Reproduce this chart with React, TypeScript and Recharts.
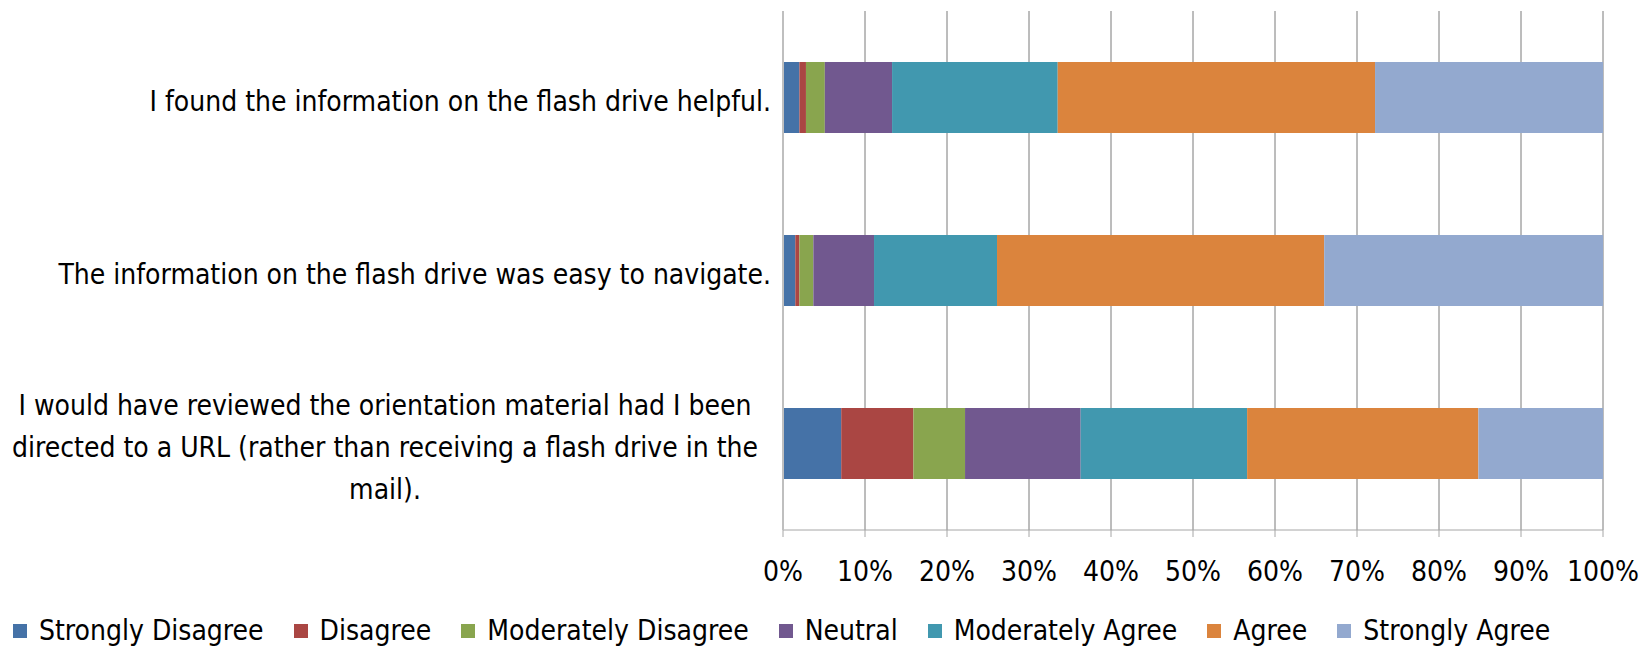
import { Bar, BarChart, CartesianGrid, Legend, XAxis, YAxis } from 'recharts';

const questionLines = [
    ['I found the information on the flash drive helpful.'],
    ['The information on the flash drive was easy to navigate.'],
    [
        'I would have reviewed the orientation material had I been',
        'directed to a URL (rather than receiving a flash drive in the',
        'mail).',
    ],
];
const questions = questionLines.map((l) => l.join(' '));

const seriesNames = [
    'Strongly Disagree',
    'Disagree',
    'Moderately Disagree',
    'Neutral',
    'Moderately Agree',
    'Agree',
    'Strongly Agree',
];
const seriesColors = ['#4572a7', '#aa4643', '#89a54e', '#71588f', '#4198af', '#db843d', '#93a9cf'];

const stronglyDisagree = [2.0, 1.5, 7.1];
const disagree = [0.8, 0.5, 8.8];
const moderatelyDisagree = [2.3, 1.7, 6.3];
const neutral = [8.2, 7.4, 14.1];
const moderatelyAgree = [20.2, 15.0, 20.3];
const agree = [38.7, 39.9, 28.2];
const stronglyAgree = [27.8, 34.0, 15.2];

const percentTicks = [0, 10, 20, 30, 40, 50, 60, 70, 80, 90, 100];
const edgeTicks = [0, 1, 2, 3];

const allSeries = [stronglyDisagree, disagree, moderatelyDisagree, neutral, moderatelyAgree, agree, stronglyAgree];

const data = questions.map((q, i) => {
    const row: Record<string, string | number> = { question: q };
    seriesNames.forEach((name, s) => {
        row[name] = allSeries[s][i];
    });
    return row;
});

const FONT = "'Liberation Sans Narrow', 'DejaVu Sans Condensed', 'Open Sans', sans-serif";

// long labels are wrapped and centred as a block, short ones hug the axis
const QuestionTick = (props: any) => {
    const { x, y, payload } = props;
    const idx = questions.indexOf(payload.value);
    const lines = questionLines[idx] || [payload.value];
    const lineH = 42;
    const startY = y - ((lines.length - 1) * lineH) / 2 + 3;
    const multi = lines.length > 1;
    const tx = multi ? x - 386 : x;
    return (
        <text
            x={tx}
            y={startY}
            textAnchor={multi ? 'middle' : 'end'}
            dominantBaseline="central"
            fill="#000"
            fontSize={28}
            fontFamily={FONT}
        >
            {lines.map((line, i) => (
                <tspan key={i} x={tx} y={startY + i * lineH}>
                    {line}
                </tspan>
            ))}
        </text>
    );
};

// skip the 0% grid line so the light axis line shows there
const GridLine = (p: any) =>
    p.index === 0 ? (
        <g key={p.key} />
    ) : (
        <line key={p.key} x1={p.x1} y1={p.y1} x2={p.x2} y2={p.y2} stroke="#7a7a7a" strokeWidth={1} />
    );

const renderLegend = () => (
    <div
        style={{
            display: 'flex',
            alignItems: 'center',
            paddingLeft: 13,
            paddingTop: 4,
            fontFamily: FONT,
            fontSize: 28,
            color: '#000',
        }}
    >
        {seriesNames.map((name, i) => (
            <div key={name} style={{ display: 'flex', alignItems: 'center', marginRight: 30 }}>
                <span style={{ width: 14, height: 14, background: seriesColors[i], marginRight: 12 }} />
                <span>{name}</span>
            </div>
        ))}
    </div>
);

const App = () => {
    return (
        <div style={{ position: 'absolute', left: 0, top: 0, width: 1644, height: 646, background: '#fff' }}>
            <BarChart
                width={1644}
                height={646}
                data={data}
                layout="vertical"
                margin={{ top: 11, right: 41, left: 0, bottom: 0 }}
            >
                <CartesianGrid horizontal={false} vertical={GridLine} yAxisId="zLabels" />
                <XAxis
                    type="number"
                    domain={[0, 100]}
                    ticks={percentTicks}
                    tickFormatter={(v) => `${v}%`}
                    height={80}
                    stroke="#a6a6a6"
                    tickSize={7}
                    tickMargin={24}
                    tick={{ fill: '#000', fontSize: 28, fontFamily: FONT }}
                    interval={0}
                />
                <YAxis
                    yAxisId="aEdge"
                    type="number"
                    domain={[0, 3]}
                    ticks={edgeTicks}
                    allowDataOverflow
                    width={10}
                    tick={false}
                    tickSize={10}
                    stroke="#bfbfbf"
                    strokeWidth={2}
                />
                <YAxis
                    yAxisId="zLabels"
                    type="category"
                    dataKey="question"
                    width={773}
                    axisLine={false}
                    tickLine={false}
                    tickSize={0}
                    tickMargin={2}
                    tick={<QuestionTick />}
                    interval={0}
                />
                <Legend verticalAlign="bottom" height={36} content={renderLegend} wrapperStyle={{ left: 0, width: 1644 }} />
                {seriesNames.map((name, i) => (
                    <Bar
                        key={name}
                        yAxisId="zLabels"
                        dataKey={name}
                        stackId="a"
                        fill={seriesColors[i]}
                        barSize={71}
                        isAnimationActive={false}
                    />
                ))}
            </BarChart>
        </div>
    );
};

export default App;
